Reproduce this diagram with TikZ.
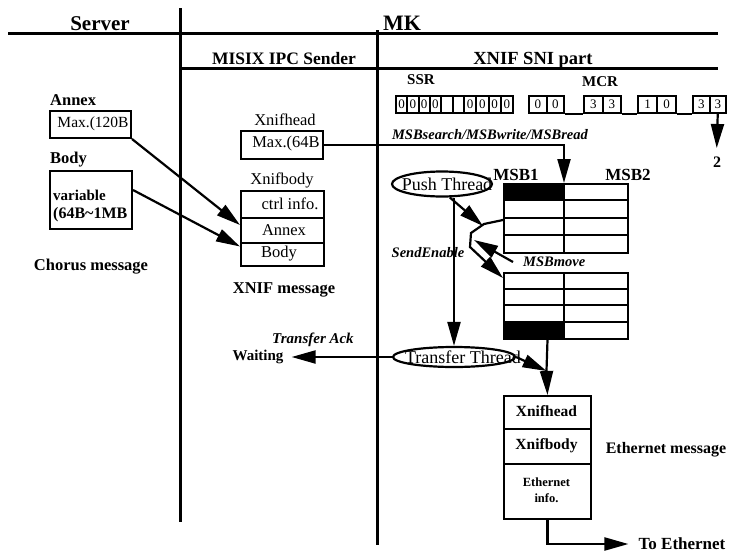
\documentclass[tikz,border=0pt]{standalone}
\usepackage{fontspec}
\setmainfont{Liberation Serif}
\usetikzlibrary{arrows.meta,shapes.geometric}
\begin{document}
\begin{tikzpicture}[x=1pt,y=-1pt,
  big/.style={line width=3pt},
  conn/.style={line width=2.2pt},
  box/.style={draw,line width=2pt,inner sep=0pt,anchor=north west},
  tip/.style={-{Triangle[length=24pt,width=13pt]}},
  lbl/.style={inner sep=0pt,font=\fontsize{16.5}{18}\selectfont},
  blbl/.style={inner sep=0pt,font=\bfseries\fontsize{16}{18}\selectfont},
  ilbl/.style={inner sep=0pt,font=\bfseries\itshape\fontsize{14.5}{16}\selectfont},
  digit/.style={box,font=\fontsize{13}{14}\selectfont,minimum height=17pt},
  thread/.style={draw,ellipse,line width=2.2pt,inner sep=0pt},
]
\useasboundingbox (0,0) rectangle (732,552);

% separators
\coordinate (t0) at (8,33); \coordinate (t1) at (718,33);
\draw[big] (t0) -- (t1);
\coordinate (s0) at (180,68); \coordinate (s1) at (718,68);
\draw[big] (s0) -- (s1);
\coordinate (v1a) at (180,8); \coordinate (v1b) at (180,522);
\draw[big] (v1a) -- (v1b);
\coordinate (v2a) at (377,30); \coordinate (v2b) at (377,545);
\draw[big] (v2a) -- (v2b);

% titles
\node[inner sep=0pt,font=\bfseries\fontsize{21}{24}\selectfont,anchor=base] (server) at (100,30) {Server};
\node[inner sep=0pt,font=\bfseries\fontsize{22}{24}\selectfont,anchor=base] (mk) at (402,30) {MK};
\node[inner sep=0pt,font=\bfseries\fontsize{17.5}{20}\selectfont,anchor=base] (misix) at (284,64) {MISIX IPC Sender};
\node[inner sep=0pt,font=\bfseries\fontsize{18.5}{20}\selectfont,anchor=base] (xnif) at (533,64) {XNIF SNI part};

% SSR / MCR
\node[inner sep=0pt,font=\bfseries\fontsize{15}{16}\selectfont,anchor=base] (ssr) at (421,84) {SSR};
\node[inner sep=0pt,font=\bfseries\fontsize{15}{16}\selectfont,anchor=base] (mcr) at (600,86) {MCR};
\foreach \x/\w/\t [count=\i] in {395/11.25/0,406.25/11.25/0,417.5/11.25/0,428.75/11.25/0,440/11.5/{},451.5/11.5/{},463/12.25/0,475.25/12.25/0,487.5/12.25/0,499.75/12.25/0}
  \node[digit,minimum width=\w pt] (ssr\i) at (\x,95) {\t};
\foreach \x/\w/\t [count=\i] in {528/17.5/0,545.5/17.5/0,583/18.5/3,601.5/18.5/3,637/19/1,656/19/0,692/16.5/3,708.5/16.5/3}
  \node[digit,minimum width=\w pt] (mcr\i) at (\x,95) {\t};
\draw[line width=2pt] (mcr2.south east) -- (mcr3.south west);
\draw[line width=2pt] (mcr4.south east) -- (mcr5.south west);
\draw[line width=2pt] (mcr6.south east) -- (mcr7.south west);
\node[inner sep=0pt,font=\bfseries\fontsize{16}{18}\selectfont] (two) at (717,162) {2};
\coordinate (c2) at (716.75,148);
\draw[conn,tip] (mcr8.south) -- (c2);

% Server side
\node[blbl,anchor=west,font=\bfseries\fontsize{16.5}{18}\selectfont] (annexl) at (50,100) {Annex};
\node[box,minimum width=81pt,minimum height=27pt] (AX) at (49,110) {};
\node[lbl,font=\fontsize{15.5}{18}\selectfont] (axt) at (93,124) {Max.(120B};
\node[blbl,anchor=west,font=\bfseries\fontsize{16.5}{18}\selectfont] (bodyl) at (50,160) {Body};
\node[box,minimum width=82pt,minimum height=58pt] (BD) at (49,170) {};
\node[blbl,anchor=west,font=\bfseries\fontsize{15}{18}\selectfont] (bdt1) at (53,195) {variable};
\node[blbl,anchor=west,font=\bfseries\fontsize{16}{18}\selectfont] (bdt2) at (53,215) {(64B\textasciitilde 1MB};
\node[blbl,font=\bfseries\fontsize{16.5}{18}\selectfont] (chorus) at (91,267) {Chorus message};

% XNIF message
\node[lbl] (xhl) at (285,120) {Xnifhead};
\node[box,minimum width=82pt,minimum height=28pt] (XH) at (240,130) {};
\node[lbl] (xht) at (286,144) {Max.(64B};
\node[lbl] (xbl) at (282,180) {Xnifbody};
\node[box,minimum width=83pt,minimum height=27pt] (XB1) at (240,190) {};
\node[box,minimum width=83pt,minimum height=25pt] (XB2) at (240,217) {};
\node[box,minimum width=83pt,minimum height=23pt] (XB3) at (240,242) {};
\node[lbl] (xb1t) at (290,204) {ctrl info.};
\node[lbl] (xb2t) at (284,230) {Annex};
\node[lbl] (xb3t) at (279,254) {Body};
\node[blbl,font=\bfseries\fontsize{16.5}{18}\selectfont] (xnifmsg) at (284,290) {XNIF message};

\draw[conn,tip] (AX.south east) -- ([yshift=5.5pt]XB2.west);
\draw[conn,tip] ([yshift=10pt]BD.east) -- ([yshift=8pt]XB3.west);

% MSB tables
\node[inner sep=0pt,font=\bfseries\fontsize{17}{18}\selectfont,anchor=base] (msb1) at (516,180) {MSB1};
\node[inner sep=0pt,font=\bfseries\fontsize{17}{18}\selectfont,anchor=base] (msb2) at (628,180) {MSB2};
\fill (503,183) rectangle (564,200.25);
\node[box,minimum width=124pt,minimum height=69pt] (T1) at (503,183) {};
\draw[line width=2pt] (564,183) -- (564,252);
\foreach \y in {200.25,217.5,234.75} \draw[line width=2pt] (503,\y) -- (627,\y);
\fill (503,321.5) rectangle (564,338);
\node[box,minimum width=124pt,minimum height=66pt] (T2) at (503,272) {};
\draw[line width=2pt] (564,272) -- (564,338);
\foreach \y in {288.5,305,321.5} \draw[line width=2pt] (503,\y) -- (627,\y);

\node[ilbl] (msbs) at (490,135) {MSBsearch/MSBwrite/MSBread};
\coordinate (t1in) at (564,183);
\draw[conn,tip] (XH.east) -| (t1in);

% threads
\node[thread,minimum width=100pt,minimum height=25pt] (PT) at (442,184) {};
\node[inner sep=0pt,font=\fontsize{18}{18}\selectfont] (ptt) at (447,184) {Push Thread};
\node[thread,minimum width=122pt,minimum height=20pt] (TT) at (454,357) {};
\node[inner sep=0pt,font=\fontsize{18}{18}\selectfont] (ttt) at (463,357) {Transfer Thread};

\draw[conn,tip] (PT.south -| TT.north) -- (TT.north);
\node[ilbl] (send) at (428,253) {SendEnable};

\coordinate (j1) at (483,226);
\draw[conn,tip] (PT.-60) -- (j1);
\coordinate (b0) at (503,220);
\coordinate (b1) at (484,224);
\coordinate (b2) at (471,233);
\coordinate (b3) at (470,247);
\coordinate (b4) at (503,278);
\draw[conn,tip] (b0) -- (b1) -- (b2) -- (b3) -- (b4);
\node[ilbl,anchor=west] (move) at (523,262) {MSBmove};
\coordinate (ms) at (513,262);
\coordinate (me) at (474,240);
\draw[conn,tip] (ms) -- (me);

% transfer
\node[ilbl,font=\bfseries\itshape\fontsize{15}{16}\selectfont] (ack) at (313,340) {Transfer Ack};
\node[blbl,font=\bfseries\fontsize{15}{16}\selectfont] (wait) at (258,357) {Waiting};
\draw[conn,tip,shorten >=8pt] (TT.west) -- (wait.east);

% Ethernet message
\node[box,minimum width=87pt,minimum height=33pt] (EB1) at (503,395) {};
\node[box,minimum width=87pt,minimum height=35pt] (EB2) at (503,428) {};
\node[box,minimum width=87pt,minimum height=55pt] (EB3) at (503,463) {};
\node[blbl,font=\bfseries\fontsize{15.5}{18}\selectfont] (eb1t) at (546.5,411.5) {Xnifhead};
\node[blbl,font=\bfseries\fontsize{15.5}{18}\selectfont] (eb2t) at (546.5,445.5) {Xnifbody};
\node[blbl,font=\bfseries\fontsize{12.5}{16}\selectfont,align=center] (eb3t) at (546.5,490) {Ethernet\\info.};
\node[blbl,font=\bfseries\fontsize{16}{18}\selectfont] (ethmsg) at (666,450) {Ethernet message};

\coordinate (jn) at (546.5,371);
\draw[conn] (T2.south -| EB1.north) -- (jn);
\draw[conn,tip] (TT.east) -- (jn);
\draw[conn,tip] (jn) -- (EB1.north);

\node[blbl,font=\bfseries\fontsize{17}{18}\selectfont] (toeth) at (682,544) {To Ethernet};
\draw[conn,tip,shorten >=10pt] (EB3.south) |- (toeth.west);
\end{tikzpicture}
\end{document}
